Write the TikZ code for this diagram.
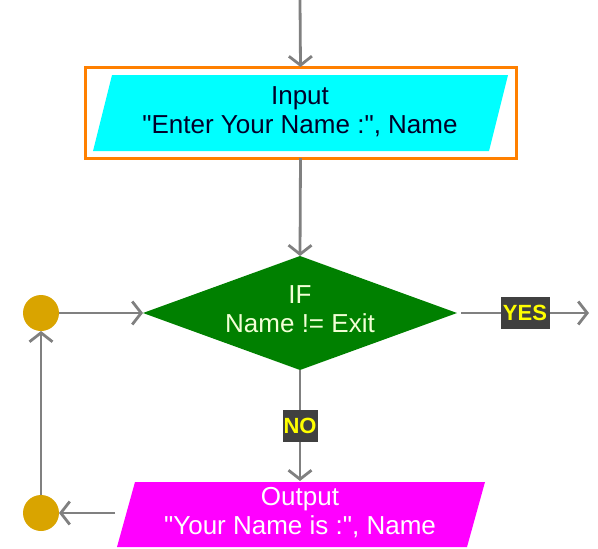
\documentclass[tikz,border=0pt]{standalone}
\usepackage{fontspec}
\setmainfont{Liberation Sans}
% plain family: straight quotes, no TeX ligature mapping
\newfontfamily\plainsans{Liberation Sans}
\usetikzlibrary{arrows.meta,shapes.geometric}
\definecolor{flowline}{HTML}{808080}
\definecolor{inputfill}{HTML}{00FFFF}
\definecolor{inputframe}{HTML}{FF8000}
\definecolor{decisionfill}{HTML}{008000}
\definecolor{outputfill}{HTML}{FF00FF}
\definecolor{jointfill}{HTML}{D9A400}
\definecolor{tagfill}{HTML}{404040}
\definecolor{tagtext}{HTML}{FFFF00}
\definecolor{decisiontext}{HTML}{F2FFD6}
\definecolor{inputtext}{HTML}{00002A}
\tikzset{
  flow/.style={draw=flowline, line width=2.8pt,
    -{Straight Barb[length=9pt,width=23pt,line width=2.8pt]}},
  boxtext/.style={font=\plainsans\fontsize{26}{29}\selectfont, align=center, inner sep=0pt},
  tag/.style={fill=tagfill, text=tagtext, font=\plainsans\bfseries\fontsize{22}{22}\selectfont,
    inner sep=1pt, minimum height=32pt},
  joint/.style={circle, fill=jointfill, minimum size=36pt, inner sep=0pt, outer sep=0pt},
}
\begin{document}
\begin{tikzpicture}[x=1pt,y=-1pt]
\useasboundingbox (0,0) rectangle (598,549);

% input block: orange frame around a cyan parallelogram
\node[draw=inputframe, line width=3pt, minimum width=431pt, minimum height=91pt,
      inner sep=0pt, outer sep=0pt] (inbox) at (300.5,112.5) {};
\fill[inputfill] (112,75) -- (508,75) -- (489,151) -- (93,151) -- cycle;
\node[boxtext, text=inputtext] (intext) at (300,111.5)
  {Input\\"Enter Your Name :", Name};

% decision
\node[diamond, fill=decisionfill, minimum width=314pt, minimum height=114pt,
      inner sep=0pt, outer sep=0pt] (dec) at (300,313) {};
\node[boxtext, text=decisiontext] (dectext) at (300,309.5) {IF\\Name != Exit};

% output block
\fill[outputfill] (135,482) -- (485,482) -- (467,547) -- (117,547) -- cycle;
\node[boxtext, text=white] (outtext) at (300,512.5)
  {Output\\"Your Name is :", Name};
\coordinate (outtop) at (300,481);
\coordinate (outleft) at (115,513);

% loop joints
\node[joint] (j1) at (41,313) {};
\node[joint] (j2) at (41,513) {};

% free ends
\coordinate (entry) at (300,0);
\coordinate (yesend) at (589,313);
\coordinate (decright) at (461,313);

% connectors
\draw[flow] (entry) -- (inbox.north);
\draw[flow] (inbox.south) -- (dec.north);
\draw[flow] (decright) -- node[tag, minimum width=49pt] (yes) {YES} (yesend);
\draw[flow] (dec.south) -- node[tag, minimum width=34pt] (no) {NO} (outtop);
\draw[flow] (outleft) -- (j2.east);
\draw[flow] (j2.north) -- (j1.south);
\draw[flow] (j1.east) -- (dec.west);
\end{tikzpicture}
\end{document}
